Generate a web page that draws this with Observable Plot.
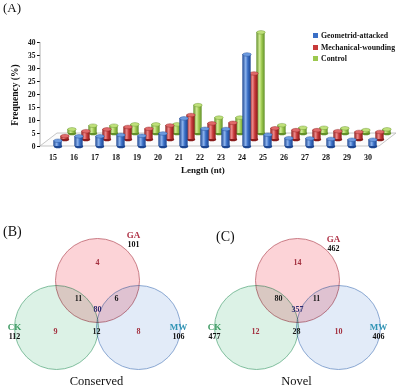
<!DOCTYPE html>
<html><head><meta charset="utf-8">
<script src="https://cdn.jsdelivr.net/npm/d3@7"></script>
<script src="https://cdn.jsdelivr.net/npm/@observablehq/plot@0.6"></script>
<style>
body{margin:0;background:#fff;}
#page{position:relative;width:400px;height:389px;overflow:hidden;background:#fff;font-family:"Liberation Serif","Times New Roman",serif;color:#111;}
.abs{position:absolute;white-space:nowrap;}
.leg{font-weight:bold;font-size:7.8px;line-height:11.5px;}
.leg span.sw{display:inline-block;width:5px;height:5px;margin-right:3px;vertical-align:0px;}
</style></head><body><div id="page"></div>
<script>
// ---------- DATA ----------
const lengths = [15,16,17,18,19,20,21,22,23,24,25,26,27,28,29,30];
const seriesNames = ["Geometrid-attacked","Mechanical-wounding","Control"];
const geometridAttacked = [2.2,3.9,3.9,4.4,4.1,5.0,10.8,6.8,6.7,35.4,4.5,3.2,3.1,2.9,2.6,2.6];
const mechanicalWounding = [1.3,3.2,3.9,4.8,4.1,5.4,9.4,6.2,6.4,25.4,4.3,3.6,3.6,3.2,2.9,2.9];
const control = [1.6,3.0,3.0,3.5,3.5,3.5,10.9,6.1,6.1,38.9,3.2,2.2,2.2,2.0,1.3,1.6];
const yTicks = [0,5,10,15,20,25,30,35,40];

const vennSets = ["GA","CK","MW"];
const conservedTotals = [101,112,106];
const novelTotals = [462,477,406];
const vennRegions = ["GA","CK","MW","GA∩CK","GA∩MW","CK∩MW","GA∩CK∩MW"];
const conservedCounts = [4,9,8,11,6,12,80];
const novelCounts = [14,12,10,80,11,28,357];

// ---------- STYLE / LAYOUT ----------
const palette = {
  "Geometrid-attacked": {base:"#3a6fc6", dark:"#1d4690", light:"#8db4ee", cap:"#6d9be0"},
  "Mechanical-wounding": {base:"#c73a3a", dark:"#8a1c1c", light:"#ee8a8a", cap:"#e06a6a"},
  "Control": {base:"#9cc84e", dark:"#62902a", light:"#d2eb96", cap:"#bfe07a"}
};
const depth = {"Geometrid-attacked":{dx:5,dy:0},"Mechanical-wounding":{dx:12,dy:-7},"Control":{dx:19,dy:-13}};
const barW = 8.5;
const W = 400, ML = 40, MR = 21;
const step = (W - ML - MR) / lengths.length;
const inset = (step - barW) / 2;

const page = document.getElementById("page");
function addText(txt, left, top, style) {
  const d = document.createElement("div");
  d.className = "abs"; d.textContent = txt;
  d.style.left = left + "px"; d.style.top = top + "px";
  Object.assign(d.style, style || {});
  page.appendChild(d); return d;
}

// ---------- BAR CHART ----------
const valuesBySeries = {"Geometrid-attacked": geometridAttacked, "Mechanical-wounding": mechanicalWounding, "Control": control};
const rows = lengths.flatMap((len, i) => seriesNames.map(s => ({len, series: s, value: valuesBySeries[s][i]})));

const k = 0.5523;
const ellipse = (rx, ry) => ({draw(ctx) {
  ctx.moveTo(rx, 0);
  ctx.bezierCurveTo(rx, ry*k, rx*k, ry, 0, ry);
  ctx.bezierCurveTo(-rx*k, ry, -rx, ry*k, -rx, 0);
  ctx.bezierCurveTo(-rx, -ry*k, -rx*k, -ry, 0, -ry);
  ctx.bezierCurveTo(rx*k, -ry, rx, -ry*k, rx, 0);
  ctx.closePath();
}});
const capSym = ellipse(barW/2, 1.8);

const barMarks = [];
for (const s of ["Control","Mechanical-wounding","Geometrid-attacked"]) {
  const data = rows.filter(r => r.series === s);
  const p = palette[s], o = depth[s];
  const gid = "g" + s.replace(/[^a-z]/gi, "");
  barMarks.push(
    Plot.dot(data, {x: "len", y: () => 0, symbol: capSym, r: 3, fill: p.dark, stroke: "none", dx: o.dx, dy: o.dy}),
    Plot.barY(data, {x: "len", y: "value", fill: `url(#${gid})`, insetLeft: inset, insetRight: inset, dx: o.dx, dy: o.dy}),
    Plot.dot(data, {x: "len", y: "value", symbol: capSym, r: 3, fill: p.cap, stroke: p.dark, strokeWidth: 0.4, dx: o.dx, dy: o.dy})
  );
}

const bar = Plot.plot({
  width: W, height: 180,
  marginLeft: ML, marginRight: MR, marginTop: 42, marginBottom: 34,
  style: {fontFamily: '"Liberation Serif","Times New Roman",serif', fontSize: "8px", fontWeight: "bold", color: "#111", background: "transparent"},
  x: {type: "band", domain: lengths, padding: 0},
  y: {domain: [0, 40]},
  marks: [
    Plot.axisY({ticks: yTicks, tickSize: 3, tickPadding: 2, label: null, fontSize: 7.5}),
    Plot.axisX({tickSize: 0, tickPadding: 8, label: null, fontSize: 8}),
    ...barMarks
  ]
});
bar.style.position = "absolute"; bar.style.left = "0px"; bar.style.top = "0px";
page.appendChild(bar);

// gradients + floor + y axis line, derived from the plot's scales
{
  const svg = d3.select(bar);
  const defs = svg.insert("defs", ":first-child");
  for (const s of seriesNames) {
    const p = palette[s];
    const g = defs.append("linearGradient").attr("id", "g" + s.replace(/[^a-z]/gi, "")).attr("x1", 0).attr("x2", 1).attr("y1", 0).attr("y2", 0);
    g.append("stop").attr("offset", 0).attr("stop-color", p.dark);
    g.append("stop").attr("offset", 0.4).attr("stop-color", p.light);
    g.append("stop").attr("offset", 0.65).attr("stop-color", p.base);
    g.append("stop").attr("offset", 1).attr("stop-color", p.dark);
  }
  const xs = bar.scale("x"), ys = bar.scale("y");
  const [xa, xb] = xs.range;
  const y0 = ys.apply(0), yTop = ys.apply(40);
  const back = depth["Control"];
  const floor = d3.path();
  floor.moveTo(xa, y0); floor.lineTo(xb, y0); floor.lineTo(xb + back.dx - 2, y0 + back.dy);
  floor.lineTo(xa + back.dx - 2, y0 + back.dy); floor.closePath();
  const firstMark = bar.querySelector("g[aria-label='dot']");
  const fp = document.createElementNS("http://www.w3.org/2000/svg", "path");
  fp.setAttribute("d", floor.toString()); fp.setAttribute("fill", "#fbfbfb"); fp.setAttribute("stroke", "#b8b8b8"); fp.setAttribute("stroke-width", "0.8");
  bar.insertBefore(fp, firstMark);
  const ax = document.createElementNS("http://www.w3.org/2000/svg", "line");
  ax.setAttribute("x1", xa); ax.setAttribute("x2", xa); ax.setAttribute("y1", yTop); ax.setAttribute("y2", y0);
  ax.setAttribute("stroke", "#999"); ax.setAttribute("stroke-width", "0.8");
  bar.insertBefore(ax, firstMark);
}

addText("(A)", 3, 0, {fontSize: "13px"});
addText("Length (nt)", 181, 165, {fontSize: "9px", fontWeight: "bold"});
addText("Frequency (%)", 15, 95, {fontSize: "9.5px", fontWeight: "bold", transform: "translate(-50%,-50%) rotate(-90deg)", lineHeight: "10px"});
const leg = document.createElement("div");
leg.className = "abs leg"; leg.style.left = "313px"; leg.style.top = "30px";
leg.innerHTML = seriesNames.map(s => `<div><span class="sw" style="background:${palette[s].base}"></span>${s}</div>`).join("");
page.appendChild(leg);

// ---------- VENN DIAGRAMS ----------
const vennStyle = {
  GA: {fill: "#fcd3d7", stroke: "#c4717b", label: "#b0364a"},
  CK: {fill: "#dcf2e6", stroke: "#74b894", label: "#3d9a62"},
  MW: {fill: "#e2ebf8", stroke: "#7e9ecd", label: "#2f93b4"}
};
const vennLayout = {
  radius: 42,
  circles: {GA: [97, 90], CK: [56, 137], MW: [138, 137]},
  setLabels: {GA: [133, 45], CK: [14, 137], MW: [178, 137]},
  regionPos: {"GA": [97, 72], "CK": [55, 141], "MW": [138, 141], "GA∩CK": [78, 108], "GA∩MW": [116, 108], "CK∩MW": [96, 141], "GA∩CK∩MW": [97, 119]}
};
const regionColor = r => r.split("∩").length === 1 ? "#a3303f" : r.split("∩").length === 2 ? "#1a1a1a" : "#2c2a70";

function venn(counts, totals, caption, gaShift) {
  const circles = vennSets.map((name, i) => ({name, total: totals[i], cx: vennLayout.circles[name][0], cy: vennLayout.circles[name][1]}));
  const labels = vennSets.map((name, i) => {
    const [lx, ly] = vennLayout.setLabels[name];
    return {name, total: totals[i], x: lx, y: ly + (name === "GA" ? gaShift : 0), color: vennStyle[name].label};
  });
  const regs = vennRegions.map((r, i) => ({r, count: counts[i], x: vennLayout.regionPos[r][0], y: vennLayout.regionPos[r][1], color: regionColor(r)}));
  return Plot.plot({
    width: 200, height: 199, margin: 0,
    style: {fontFamily: '"Liberation Serif","Times New Roman",serif', background: "transparent", overflow: "visible"},
    x: {domain: [0, 200], range: [0, 200], axis: null},
    y: {domain: [0, 199], range: [0, 199], axis: null},
    color: {type: "identity"},
    marks: [
      ...circles.map(c => Plot.dot([c], {x: "cx", y: "cy", r: vennLayout.radius, fill: vennStyle[c.name].fill, stroke: vennStyle[c.name].stroke, strokeWidth: 0.9, mixBlendMode: "multiply"})),
      Plot.text(regs, {x: "x", y: "y", text: d => String(d.count), fill: "color", fontSize: 8, fontWeight: "bold"}),
      Plot.text(labels, {x: "x", y: "y", text: "name", fill: "color", fontSize: 9, fontWeight: "bold"}),
      Plot.text(labels, {x: "x", y: "y", dy: 9, text: d => String(d.total), fill: "#111", fontSize: 8, fontWeight: "bold"}),
      Plot.text([caption], {x: () => 96, y: () => 190, text: d => d, fontSize: 12.5, fill: "#111"})
    ]
  });
}

const vb = venn(conservedCounts, conservedTotals, "Conserved", 0);
vb.style.position = "absolute"; vb.style.left = "0px"; vb.style.top = "190px";
page.appendChild(vb);
const vc = venn(novelCounts, novelTotals, "Novel", 4);
vc.style.position = "absolute"; vc.style.left = "200px"; vc.style.top = "190px";
page.appendChild(vc);
addText("(B)", 3, 224, {fontSize: "14px"});
addText("(C)", 216, 229, {fontSize: "14px"});
</script></body></html>
